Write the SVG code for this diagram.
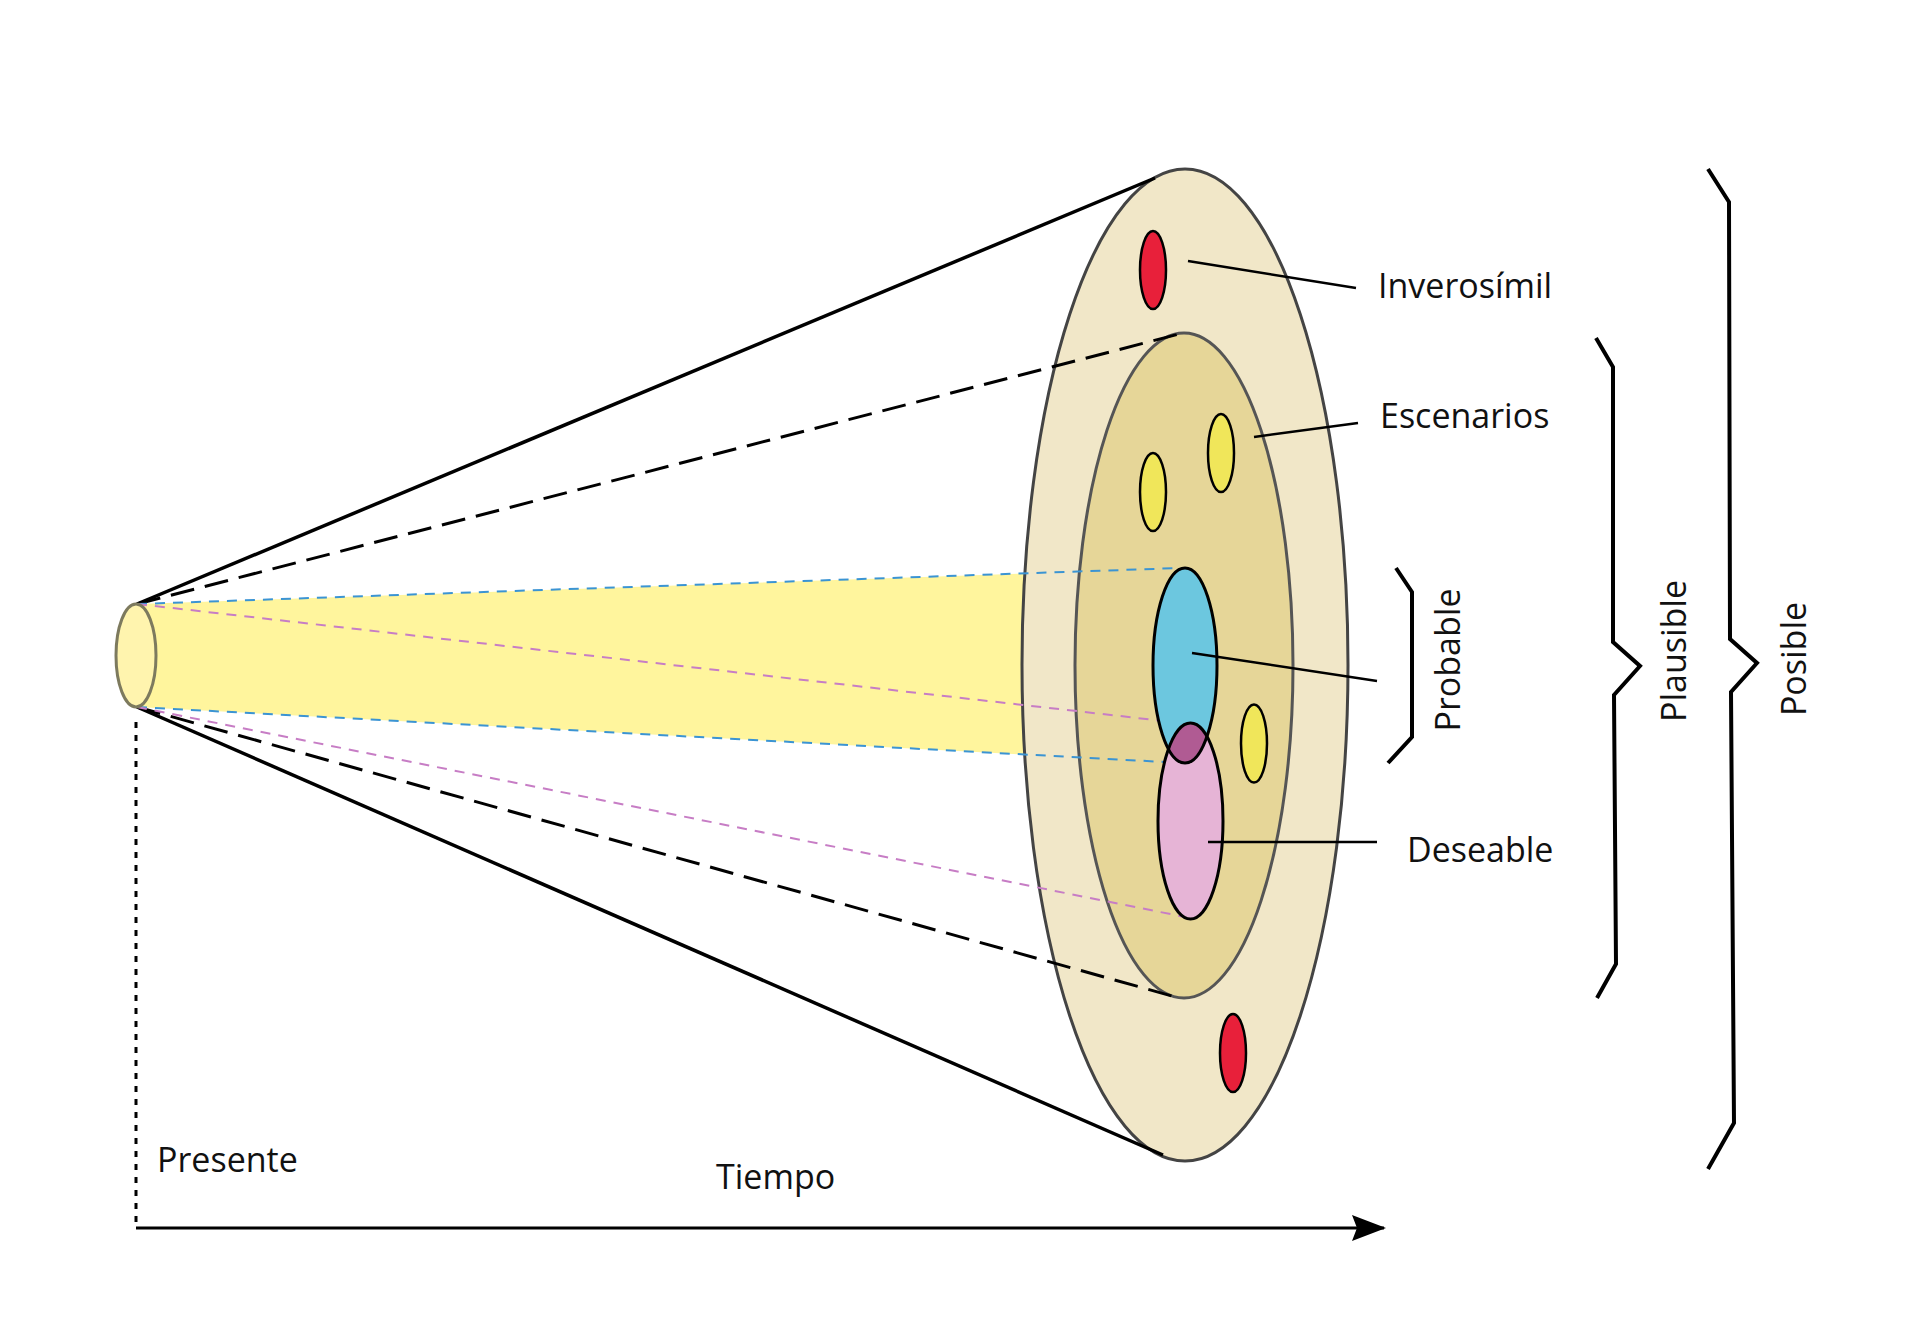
<svg xmlns="http://www.w3.org/2000/svg" width="1920" height="1323" viewBox="0 0 1920 1323">
<defs>
<style>
.lbl{font-family:"Open Sans","Liberation Sans",sans-serif;font-size:34px;fill:#111}
.solid{stroke:#000;stroke-width:3.5;fill:none}
.bdash{stroke:#000;stroke-width:3;fill:none;stroke-dasharray:24 11}
.blue{stroke:#3B94D3;stroke-width:2;fill:none;stroke-dasharray:10 8}
.pink{stroke:#C77DC5;stroke-width:2;fill:none;stroke-dasharray:10 8}
.leader{stroke:#000;stroke-width:2.5;fill:none}
.brace{stroke:#000;stroke-width:4;fill:none;stroke-linejoin:miter}
.dot{stroke-width:3;stroke:#000;fill:none}
</style>
<clipPath id="blueClip"><ellipse cx="1185" cy="665.5" rx="32" ry="97.5"/></clipPath>
<marker id="arrow" viewBox="0 0 34 26" refX="32" refY="13" markerWidth="34" markerHeight="26" markerUnits="userSpaceOnUse" orient="auto">
<path d="M0,0 L34,13 L0,26 L5,13 Z" fill="#000"/>
</marker>
</defs>
<rect width="1920" height="1323" fill="#fff"/>

<g id="cone-fill">
<polygon points="137,604 1185,568 1165,762 137,707" fill="#FFF59D"/>
</g>

<g id="outer-ring">
<ellipse cx="1185" cy="665" rx="163" ry="496" fill="#F1E7C8" stroke="#444" stroke-width="3"/>
</g>
<g id="inner-ring">
<ellipse cx="1184" cy="665.5" rx="109" ry="332.5" fill="#E6D698" stroke="#555" stroke-width="3"/>
</g>

<g id="connectors">
<line class="solid" x1="137" y1="604" x2="1155" y2="178"/>
<line class="solid" x1="137" y1="707" x2="1163" y2="1155"/>
<line class="bdash" x1="137" y1="604" x2="1183" y2="333"/>
<line class="bdash" x1="137" y1="707" x2="1172" y2="996"/>
<line class="blue" x1="137" y1="604" x2="1180" y2="568"/>
<line class="blue" x1="137" y1="707" x2="1165" y2="762"/>
<line class="pink" x1="137" y1="604" x2="1190" y2="724"/>
<line class="pink" x1="137" y1="707" x2="1190" y2="918"/>
<line class="dot" x1="136" y1="722" x2="136" y2="1228" stroke-dasharray="6 7"/>
<line x1="136" y1="1228" x2="1384" y2="1228" stroke="#000" stroke-width="3" marker-end="url(#arrow)"/>
</g>

<g id="present">
<ellipse cx="136" cy="655.5" rx="20" ry="51.5" fill="#FFF4AE" stroke="#7D7A5E" stroke-width="3"/>
</g>

<g id="inverosimil-dots">
<ellipse cx="1153" cy="270" rx="13" ry="39" fill="#E8203A" stroke="#000" stroke-width="2.5"/>
<ellipse cx="1233" cy="1053" rx="13" ry="39" fill="#E8203A" stroke="#000" stroke-width="2.5"/>
</g>
<g id="escenarios-dots">
<ellipse cx="1221" cy="453" rx="13" ry="39" fill="#F0E65A" stroke="#000" stroke-width="2.5"/>
<ellipse cx="1153" cy="492" rx="13" ry="39" fill="#F0E65A" stroke="#000" stroke-width="2.5"/>
<ellipse cx="1254" cy="743.5" rx="13" ry="39" fill="#F0E65A" stroke="#000" stroke-width="2.5"/>
</g>
<g id="probable">
<ellipse cx="1185" cy="665.5" rx="32" ry="97.5" fill="#6CC7DF"/>
</g>
<g id="deseable">
<ellipse cx="1190.5" cy="821" rx="32.5" ry="98" fill="#E6B4D6"/>
<ellipse cx="1190.5" cy="821" rx="32.5" ry="98" fill="#B05B93" clip-path="url(#blueClip)"/>
<ellipse cx="1185" cy="665.5" rx="32" ry="97.5" fill="none" stroke="#000" stroke-width="3"/>
<ellipse cx="1190.5" cy="821" rx="32.5" ry="98" fill="none" stroke="#000" stroke-width="3"/>
</g>

<g id="leaders">
<line class="leader" x1="1188" y1="261" x2="1356" y2="288"/>
<line class="leader" x1="1254" y1="437" x2="1358" y2="423"/>
<line class="leader" x1="1192" y1="653" x2="1377" y2="681"/>
<line class="leader" x1="1208" y1="842" x2="1377" y2="842"/>
</g>

<g id="labels">
<text class="lbl" x="1378" y="298">Inverosímil</text>
<text class="lbl" x="1380" y="428">Escenarios</text>
<text class="lbl" x="1407" y="862">Deseable</text>
<text class="lbl" x="157" y="1172">Presente</text>
<text class="lbl" x="716" y="1189">Tiempo</text>
<text class="lbl" text-anchor="middle" transform="translate(1460,660) rotate(-90)">Probable</text>
<text class="lbl" text-anchor="middle" transform="translate(1686,651) rotate(-90)">Plausible</text>
<text class="lbl" text-anchor="middle" transform="translate(1806,659) rotate(-90)">Posible</text>
</g>

<g id="braces">
<polyline class="brace" points="1396,568 1412,592 1412,737 1388,763"/>
<polyline class="brace" points="1596,338 1613,367 1613,642 1640,666 1614,695 1616,964 1597,998"/>
<polyline class="brace" points="1708,169 1729,202 1730,639 1757,663 1731,692 1734,1123 1708,1169"/>
</g>
</svg>
